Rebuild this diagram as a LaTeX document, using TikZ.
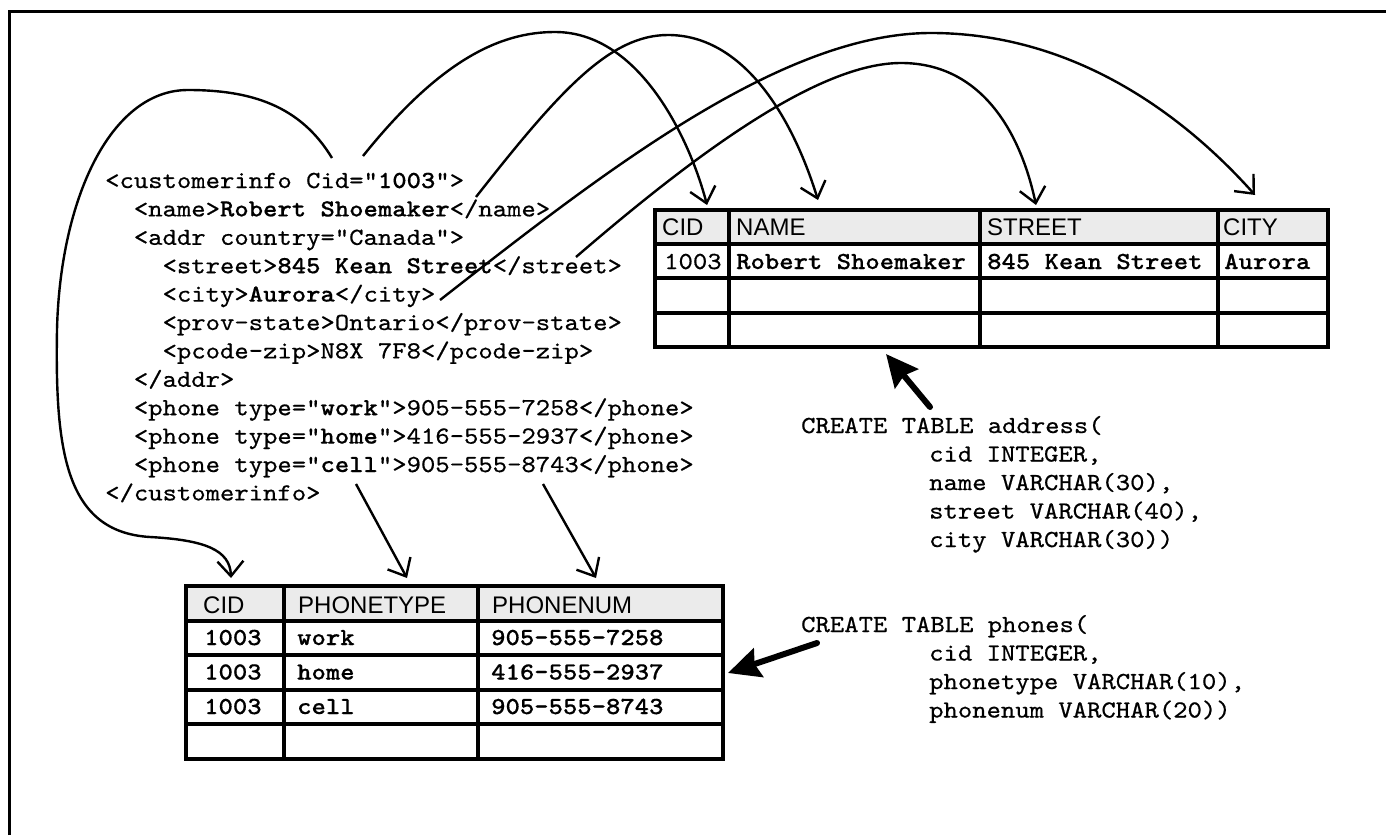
\documentclass[tikz,border=0pt]{standalone}
\usepackage{fontspec}
\newfontfamily\hdrfont{Liberation Sans}
\newfontfamily\codefont{lmmono10-regular}[Extension=.otf, BoldFont=lmmonolt10-bold, FakeStretch=1.116, Ligatures=TeXOff, UprightFeatures={FakeBold=0.6}, BoldFeatures={FakeBold=0.4}]
\usetikzlibrary{arrows.meta}
\definecolor{hdrgray}{HTML}{EBEBEB}
\tikzset{
  code/.style={font=\codefont\fontsize{24.5}{28.4}\selectfont, anchor=base west, inner sep=0pt},
  hdrtext/.style={font=\hdrfont\fontsize{24}{28}\selectfont, anchor=base west, inner sep=0pt},
  gridline/.style={line width=3.5pt},
  link/.style={line width=2.4pt, -{Straight Barb[length=15pt,width=26pt]}},
  bigarrow/.style={line width=6pt, line cap=round, -{Stealth[length=32pt,width=30pt,inset=4pt]}}
}
\begin{document}
\begin{tikzpicture}[x=1pt,y=-1pt]
\useasboundingbox (0,0) rectangle (1386,835);
% frame
\draw[line width=3pt] (9,835) -- (9,11) -- (1386,11);

% XML
\node[code] (x1) at (105,188) {<customerinfo Cid="\textbf{1003}">};
\node[code] (x2) at (133.7,216.4) {<name>\textbf{Robert Shoemaker}</name>};
\node[code] (x3) at (133.7,244.8) {<addr country="Canada">};
\node[code] (x4) at (162.4,273.2) {<street>\textbf{845 Kean Street}</street>};
\node[code] (x5) at (162.4,301.6) {<city>\textbf{Aurora}</city>};
\node[code] (x6) at (162.4,330) {<prov-state>Ontario</prov-state>};
\node[code] (x7) at (162.4,358.4) {<pcode-zip>N8X 7F8</pcode-zip>};
\node[code] (x8) at (133.7,386.8) {</addr>};
\node[code] (x9) at (133.7,415.2) {<phone type="\textbf{work}">905-555-7258</phone>};
\node[code] (x10) at (133.7,443.6) {<phone type="\textbf{home}">416-555-2937</phone>};
\node[code] (x11) at (133.7,472) {<phone type="\textbf{cell}">905-555-8743</phone>};
\node[code] (x12) at (105,500.4) {</customerinfo>};

% address table
\fill[hdrgray] (655,210) rectangle (1328,244);
\draw[gridline] (655,210) rectangle (1328,347);
\foreach \yy in {244,278,313} \draw[gridline] (655,\yy) -- (1328,\yy);
\foreach \xx in {729,980,1218} \draw[gridline] (\xx,210) -- (\xx,347);
\node[hdrtext] (hcid) at (662,235.5) {CID};
\node[hdrtext] (hname) at (736,235.5) {NAME};
\node[hdrtext] (hstreet) at (987,235.5) {STREET};
\node[hdrtext] (hcity) at (1223,235.5) {CITY};
\node[code] (acid) at (664,269) {1003};
\node[code] (aname) at (736,269) {\textbf{Robert Shoemaker}};
\node[code] (astreet) at (987,269) {\textbf{845 Kean Street}};
\node[code] (acity) at (1224,269) {\textbf{Aurora}};

% phones table
\fill[hdrgray] (186,586) rectangle (723,621);
\draw[gridline] (186,586) rectangle (723,759);
\foreach \yy in {621,655,690,724} \draw[gridline] (186,\yy) -- (723,\yy);
\foreach \xx in {284,478} \draw[gridline] (\xx,586) -- (\xx,759);
\node[hdrtext] (pcid) at (203,613) {CID};
\node[hdrtext] (ptype) at (298,613) {PHONETYPE};
\node[hdrtext] (pnum) at (492,613) {PHONENUM};
\node[code] (r1c) at (204,645) {\textbf{1003}};
\node[code] (r1t) at (297,645) {\textbf{work}};
\node[code] (r1n) at (491,645) {\textbf{905-555-7258}};
\node[code] (r2c) at (204,679.5) {\textbf{1003}};
\node[code] (r2t) at (297,679.5) {\textbf{home}};
\node[code] (r2n) at (491,679.5) {\textbf{416-555-2937}};
\node[code] (r3c) at (204,714) {\textbf{1003}};
\node[code] (r3t) at (297,714) {\textbf{cell}};
\node[code] (r3n) at (491,714) {\textbf{905-555-8743}};

% SQL
\node[code] (s1) at (801,433) {CREATE TABLE address(};
\node[code] (s2) at (929,461.5) {cid INTEGER,};
\node[code] (s3) at (929,490) {name VARCHAR(30),};
\node[code] (s4) at (929,518.5) {street VARCHAR(40),};
\node[code] (s5) at (929,547) {city VARCHAR(30))};
\node[code] (s6) at (801,632) {CREATE TABLE phones(};
\node[code] (s7) at (929,660.5) {cid INTEGER,};
\node[code] (s8) at (929,689) {phonetype VARCHAR(10),};
\node[code] (s9) at (929,717.5) {phonenum VARCHAR(20))};

% connector ends
\coordinate (sA) at (332,158);  \coordinate (tA) at (231,578);
\coordinate (sB) at (363,156);  \coordinate (tB) at (707,205);
\coordinate (sC) at (476,197);  \coordinate (tC) at (818,200);
\coordinate (sD) at (576,257);  \coordinate (tD) at (1036,205);
\coordinate (sE) at (440,300);  \coordinate (tE) at (1255,195);
\coordinate (sP1) at (356,484); \coordinate (tP1) at (407,578);
\coordinate (sP2) at (543,484); \coordinate (tP2) at (596,578);
\coordinate (sQ1) at (930,407); \coordinate (tQ1) at (886,354);
\coordinate (sQ2) at (817,643); \coordinate (tQ2) at (728,673);

\draw[link] (sA) .. controls (300,105) and (250,90) .. (188,90)
  .. controls (110,90) and (60,200) .. (57,330)
  .. controls (55,450) and (65,532) .. (150,537)
  .. controls (205,540) and (230,550) .. (tA);
\draw[link] (sB) .. controls (440,60) and (500,32) .. (555,32)
  .. controls (640,32) and (690,140) .. (tB);
\draw[link] (sC) .. controls (560,90) and (610,35) .. (668,35)
  .. controls (740,35) and (790,110) .. (tC);
\draw[link] (sD) .. controls (700,150) and (820,63) .. (901,63)
  .. controls (980,63) and (1020,130) .. (tD);
\draw[link] (sE) .. controls (600,175) and (780,33) .. (931,33)
  .. controls (1060,33) and (1170,100) .. (tE);
\draw[link] (sP1) -- (tP1);
\draw[link] (sP2) -- (tP2);
\draw[bigarrow] (sQ1) -- (tQ1);
\draw[bigarrow] (sQ2) -- (tQ2);
\end{tikzpicture}
\end{document}
